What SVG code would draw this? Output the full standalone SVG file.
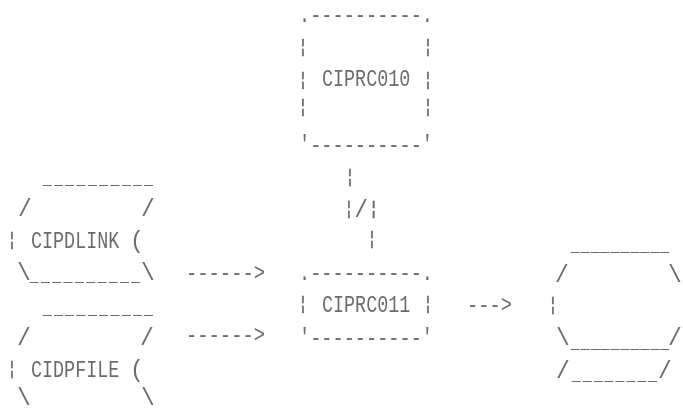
<svg xmlns="http://www.w3.org/2000/svg" width="683" height="410" viewBox="0 0 683 410">
<style>
text { font-family: "Liberation Mono", "DejaVu Sans Mono", monospace; fill: #6a6a6a; }
.t { font-size: 23px; }
.w { font-size: 23px; }
.c { font-size: 23px; text-anchor: middle; }
.b { font-size: 18px; text-anchor: middle; stroke: #6a6a6a; stroke-width: 0.4; }
.bs { font-size: 18px; stroke: #6a6a6a; stroke-width: 0.4; }
.u { font-size: 14px; stroke: #6a6a6a; stroke-width: 0.5; }
</style>
<rect width="683" height="410" fill="#ffffff"/>
<g opacity="0.99">
<g id="CIPRC010">
<text class="t" x="299" y="22" textLength="134" lengthAdjust="spacingAndGlyphs">.----------.</text>
<text class="b" x="303" y="52">¦</text><text class="b" x="428" y="52">¦</text>
<text class="b" x="303" y="85">¦</text><text class="b" x="428" y="85">¦</text>
<text class="w" transform="translate(322,86) scale(0.8,1)">CIPRC010</text>
<text class="b" x="303" y="112">¦</text><text class="b" x="428" y="112">¦</text>
<text class="t" x="299" y="152" textLength="134" lengthAdjust="spacingAndGlyphs">'----------'</text>
</g>
<g id="CIPDLINK">
<text class="u" x="43" y="184" textLength="110">__________</text>
<text class="c" x="25" y="216">/</text><text class="c" x="148" y="216">/</text>
<text class="b" x="12" y="245">¦</text>
<text class="w" transform="translate(31,248) scale(0.8,1)">CIPDLINK</text>
<text class="c" x="137" y="248">(</text>
<text class="c" x="24" y="280">\</text>
<text class="u" x="30" y="281" textLength="110">__________</text>
<text class="c" x="148" y="280">\</text>
</g>
<g id="CIDPFILE">
<text class="u" x="43" y="314" textLength="110">__________</text>
<text class="c" x="24" y="345">/</text><text class="c" x="147" y="345">/</text>
<text class="b" x="12" y="374">¦</text>
<text class="w" transform="translate(31,377) scale(0.8,1)">CIDPFILE</text>
<text class="c" x="137" y="377">(</text>
<text class="c" x="24" y="405">\</text><text class="c" x="148" y="405">\</text>
</g>
<g id="CIPRC011">
<text class="t" x="299" y="280" textLength="134" lengthAdjust="spacingAndGlyphs">.----------.</text>
<text class="b" x="303" y="309">¦</text><text class="b" x="428" y="309">¦</text>
<text class="w" transform="translate(322,312) scale(0.8,1)">CIPRC011</text>
<text class="t" x="299" y="345" textLength="134" lengthAdjust="spacingAndGlyphs">'----------'</text>
</g>
<g id="OUTFILE">
<text class="u" x="571" y="251" textLength="98">__________</text>
<text class="c" x="562" y="282">/</text><text class="c" x="675" y="282">\</text>
<text class="b" x="553" y="310">¦</text>
<text class="c" x="563" y="345">\</text>
<text class="u" x="571" y="348" textLength="98">__________</text>
<text class="c" x="675" y="345">/</text>
<text class="c" x="563" y="378">/</text>
<text class="u" x="572" y="380" textLength="85">________</text>
<text class="c" x="665" y="378">/</text>
</g>
<g id="connectors">
<text class="b" x="350" y="182">¦</text>
<text class="bs" x="343.5" y="214">¦<tspan font-size="23" stroke-width="0" dy="3">/</tspan><tspan dy="-3">¦</tspan></text>
<text class="b" x="372" y="244">¦</text>
<text class="t" x="186" y="280" textLength="79" lengthAdjust="spacingAndGlyphs">------&gt;</text>
<text class="t" x="186" y="342" textLength="79" lengthAdjust="spacingAndGlyphs">------&gt;</text>
<text class="t" x="467" y="312" textLength="45" lengthAdjust="spacingAndGlyphs">---&gt;</text>
</g>
</g>
</svg>
